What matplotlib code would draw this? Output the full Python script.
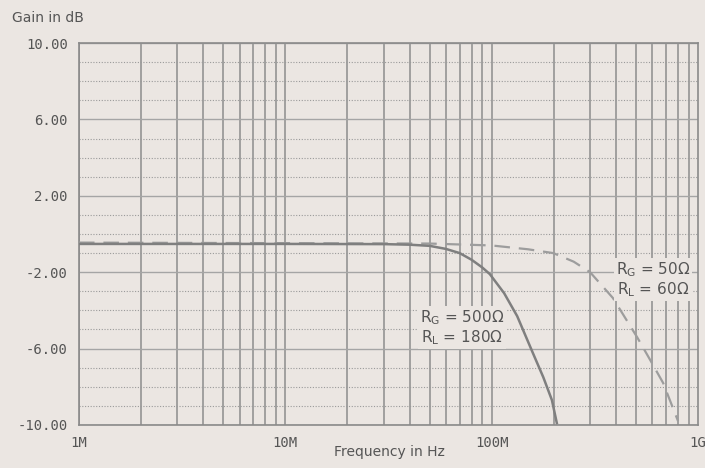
import matplotlib.pyplot as plt
import numpy as np

# curve RG=500, RL=180 (solid)
f_a = [1e6, 3e6, 1e7, 3e7, 4e7, 5e7, 6e7, 7e7, 8e7, 9e7, 98e6, 115e6, 133e6, 158e6, 178e6, 196e6, 207e6]
g_a = [-0.52, -0.52, -0.52, -0.53, -0.56, -0.62, -0.78, -1.0, -1.35, -1.75, -2.1, -3.1, -4.3, -6.2, -7.5, -8.7, -9.9]

# curve RG=50, RL=60 (dashed)
f_b = [1e6, 1e7, 5e7, 1e8, 150e6, 199e6, 250e6, 300e6, 387e6, 507e6, 587e6, 678e6, 801e6]
g_b = [-0.45, -0.48, -0.5, -0.6, -0.8, -1.0, -1.45, -2.0, -3.35, -5.4, -6.6, -7.8, -9.8]

yticks = [10, 6, 2, -2, -6, -10]
ytick_labels = ['10.00', '6.00', '2.00', '-2.00', '-6.00', '-10.00']
xticks = [1e6, 1e7, 1e8, 1e9]
xtick_labels = ['1M', '10M', '100M', '1G']

bg = '#ebe6e2'
grid_c = '#8c8c8c'
txt = '#555555'

fig = plt.figure(figsize=(7.05, 4.68), dpi=100, facecolor=bg)
ax = fig.add_axes([0.112, 0.092, 0.878, 0.816], facecolor=bg)
ax.set_xscale('log')
ax.set_xlim(1e6, 1e9)
ax.set_ylim(-10, 10)

# grid
for dec in [1e6, 1e7, 1e8]:
    for m in range(1, 10):
        ax.axvline(dec * m, color=grid_c, lw=1.1, zorder=1)
for y in range(-10, 11):
    if y in yticks:
        ax.axhline(y, color='#a5a5a5', lw=1.0, zorder=1)
    else:
        ax.axhline(y, color='#9a9a9a', lw=0.8, ls=(0, (1, 1.5)), zorder=1)

ax.plot(f_b, g_b, color='#9d9d9d', lw=1.6, ls=(0, (7, 4)), zorder=3)
ax.plot(f_a, g_a, color='#7f7f7f', lw=1.8, zorder=4)

box = dict(facecolor=bg, edgecolor='none', pad=1.5)
ax.text(7.2e7, -4.9, '$\\mathregular{R_G}$ = 500Ω\n$\\mathregular{R_L}$ = 180Ω',
        ha='center', va='center', fontsize=11, color=txt, bbox=box, zorder=5,
        linespacing=1.1, family='DejaVu Sans')
ax.text(6.05e8, -2.4, '$\\mathregular{R_G}$ = 50Ω\n$\\mathregular{R_L}$ = 60Ω',
        ha='center', va='center', fontsize=11, color=txt, bbox=box, zorder=5,
        linespacing=1.1, family='DejaVu Sans')

ax.set_yticks(yticks)
ax.set_yticklabels(ytick_labels, family='DejaVu Sans Mono', fontsize=10, color=txt)
ax.set_xticks(xticks)
ax.set_xticklabels(xtick_labels, family='DejaVu Sans Mono', fontsize=10, color=txt)
ax.minorticks_off()
ax.tick_params(length=0, pad=8)
for s in ax.spines.values():
    s.set_color('#8a8a8a')
    s.set_linewidth(1.2)

fig.text(0.017, 0.962, 'Gain in dB', fontsize=10, color=txt, va='center')
fig.text(0.553, 0.034, 'Frequency in Hz', fontsize=10, color=txt, ha='center', va='center')

fig.savefig('out.png', dpi=100, facecolor=bg)
